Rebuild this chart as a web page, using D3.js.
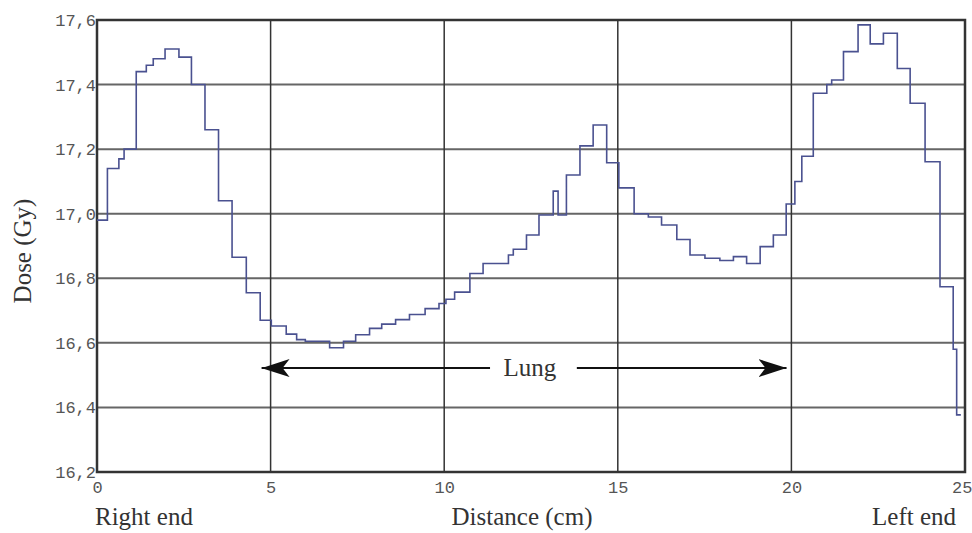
<!DOCTYPE html>
<html>
<head>
<meta charset="utf-8">
<title>Dose profile</title>
<script src="https://d3js.org/d3.v7.min.js"></script>
<style>
  body { margin: 0; background: #fff; }
  .tick text { font-family: "Liberation Mono", monospace; fill: #555; }
  .lbl { font-family: "Liberation Serif", serif; fill: #333; }
</style>
</head>
<body>
<svg width="972" height="533"></svg>
<script>
// step starts (cm) and dose (Gy) for each step
var stepX = [0, 0.30, 0.63, 0.78, 1.13, 1.42, 1.62, 1.96, 2.36, 2.72, 3.11, 3.50, 3.89, 4.30, 4.70,
  5.02, 5.45, 5.75, 6.00, 6.70, 7.10, 7.45, 7.85, 8.20, 8.60, 9.00, 9.45, 9.85, 10.05, 10.30,
  10.74, 11.12, 11.85, 11.99, 12.37, 12.73, 13.14, 13.28, 13.52, 13.91, 14.29, 14.68, 15.03, 15.47,
  15.88, 16.26, 16.70, 17.08, 17.51, 17.94, 18.33, 18.71, 19.10, 19.48, 19.85, 20.10, 20.30, 20.63,
  21.02, 21.16, 21.50, 21.92, 22.27, 22.65, 23.05, 23.42, 23.85, 24.28, 24.66, 24.76];
var dose = [16.98, 17.14, 17.17, 17.20, 17.44, 17.46, 17.48, 17.51, 17.485, 17.40, 17.26, 17.04, 16.865, 16.755, 16.67,
  16.652, 16.627, 16.61, 16.605, 16.585, 16.605, 16.625, 16.645, 16.658, 16.672, 16.688, 16.706, 16.722, 16.735, 16.757,
  16.815, 16.846, 16.872, 16.89, 16.934, 16.996, 17.07, 16.996, 17.12, 17.21, 17.275, 17.158, 17.08, 17.00,
  16.99, 16.965, 16.92, 16.872, 16.862, 16.855, 16.867, 16.846, 16.898, 16.934, 17.03, 17.10, 17.178, 17.373,
  17.40, 17.414, 17.502, 17.585, 17.526, 17.559, 17.45, 17.342, 17.161, 16.774, 16.58, 16.377];
var endX = 24.88;

var xTicks = [0, 5, 10, 15, 20, 25];
var yTicks = [16.2, 16.4, 16.6, 16.8, 17.0, 17.2, 17.4, 17.6];

var svg = d3.select("svg"),
    margin = {top: 20, right: 7, bottom: 61, left: 97},
    width = +svg.attr("width") - margin.left - margin.right,
    height = +svg.attr("height") - margin.top - margin.bottom;

var g = svg.append("g").attr("transform", "translate(" + margin.left + "," + margin.top + ")");

var x = d3.scaleLinear().domain([0, 25]).range([0, width]);
var y = d3.scaleLinear().domain([16.2, 17.6]).range([height, 0]);

var comma = d3.formatLocale({decimal: ",", thousands: ".", grouping: [3], currency: ["", ""]}).format(".1f");

// grid
g.selectAll(".hgrid").data(yTicks.slice(1, -1)).enter().append("line")
    .attr("x1", 0).attr("x2", width)
    .attr("y1", function(d) { return y(d); }).attr("y2", function(d) { return y(d); })
    .attr("stroke", "#666").attr("stroke-width", 2);
g.selectAll(".vgrid").data(xTicks.slice(1, -1)).enter().append("line")
    .attr("y1", 0).attr("y2", height)
    .attr("x1", function(d) { return x(d); }).attr("x2", function(d) { return x(d); })
    .attr("stroke", "#333").attr("stroke-width", 1.5);

// frame
g.append("rect").attr("width", width).attr("height", height)
    .attr("fill", "none").attr("stroke", "#333").attr("stroke-width", 2.5);

// axes
var yAxis = g.append("g").call(d3.axisLeft(y).tickValues(yTicks).tickFormat(comma).tickSize(0).tickPadding(1));
yAxis.select(".domain").remove();
yAxis.selectAll("text").attr("font-size", 17);

var xAxis = g.append("g").attr("transform", "translate(0," + height + ")")
    .call(d3.axisBottom(x).tickValues(xTicks).tickSize(0).tickPadding(9));
xAxis.select(".domain").remove();
xAxis.selectAll("text").attr("font-size", 17);
// last label sits against the right edge
xAxis.selectAll("text").filter(function(d) { return d === 25; })
    .attr("text-anchor", "end").attr("dx", 7);

// dose step line
var pts = stepX.map(function(d, i) { return [d, dose[i]]; });
pts.push([endX, dose[dose.length - 1]]);
var line = d3.line().curve(d3.curveStepAfter)
    .x(function(d) { return x(d[0]); })
    .y(function(d) { return y(d[1]); });
g.append("path").datum(pts)
    .attr("fill", "none").attr("stroke", "#4a5190").attr("stroke-width", 1.6)
    .attr("d", line);

// lung arrow
var arrowY = 16.522;
var defs = svg.append("defs");
defs.append("marker").attr("id", "head").attr("viewBox", "0 0 28 18")
    .attr("refX", 28).attr("refY", 9).attr("markerWidth", 28).attr("markerHeight", 18)
    .attr("markerUnits", "userSpaceOnUse").attr("orient", "auto-start-reverse")
  .append("path").attr("d", "M0,0 L28,9 L0,18 L7,9 Z").attr("fill", "#111");

g.append("line").attr("x1", x(11.32)).attr("x2", x(4.74))
    .attr("y1", y(arrowY)).attr("y2", y(arrowY))
    .attr("stroke", "#111").attr("stroke-width", 2).attr("marker-end", "url(#head)");
g.append("line").attr("x1", x(13.82)).attr("x2", x(19.86))
    .attr("y1", y(arrowY)).attr("y2", y(arrowY))
    .attr("stroke", "#111").attr("stroke-width", 2).attr("marker-end", "url(#head)");
g.append("text").attr("class", "lbl").attr("x", x(12.47)).attr("y", y(arrowY) + 8)
    .attr("text-anchor", "middle").attr("font-size", 25).text("Lung");

// labels
svg.append("text").attr("class", "lbl").attr("x", 95).attr("y", 525)
    .attr("font-size", 25).text("Right end");
svg.append("text").attr("class", "lbl").attr("x", 522).attr("y", 525)
    .attr("text-anchor", "middle").attr("font-size", 25).text("Distance (cm)");
svg.append("text").attr("class", "lbl").attr("x", 956).attr("y", 525)
    .attr("text-anchor", "end").attr("font-size", 25).text("Left end");
svg.append("text").attr("class", "lbl")
    .attr("transform", "translate(31,251) rotate(-90)")
    .attr("text-anchor", "middle").attr("font-size", 25).text("Dose (Gy)");
</script>
</body>
</html>
